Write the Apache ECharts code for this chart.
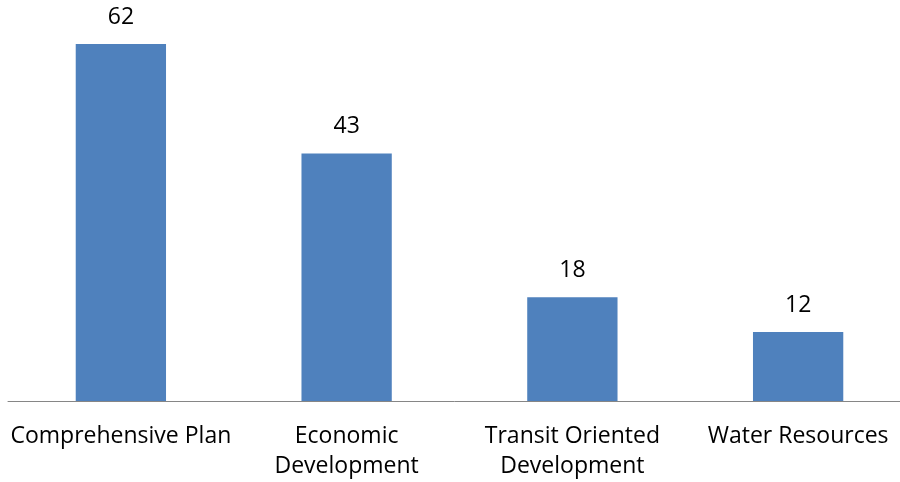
<!DOCTYPE html>
<html><head><meta charset="utf-8">
<script src="https://cdn.jsdelivr.net/npm/echarts@6/dist/echarts.min.js"></script>
<style>html,body{margin:0;padding:0;background:#fff}#c{width:900px;height:482px}</style>
</head><body><div id="c"></div>
<script>
const categories = ["Comprehensive Plan", "Economic\nDevelopment", "Transit Oriented\nDevelopment", "Water Resources"];
const values = [62, 43, 18, 12];

const chart = echarts.init(document.getElementById('c'), null, {renderer: 'canvas'});
const font = 'Open Sans';
chart.setOption({
  animation: false,
  grid: {left: 8, width: 903, top: 44, height: 357, containLabel: false, outerBoundsMode: 'none'},
  xAxis: {
    type: 'category', data: categories,
    axisLine: {lineStyle: {color: '#868686', width: 1}},
    axisTick: {show: false},
    axisLabel: {color: '#000', fontFamily: font, fontSize: 23, lineHeight: 30, margin: 20, interval: 0, hideOverlap: false}
  },
  yAxis: {type: 'value', min: 0, max: 62, show: false, splitLine: {show: false}},
  series: [{
    type: 'bar', data: values, barWidth: '40%',
    itemStyle: {color: '#4F81BD'},
    label: {show: true, position: 'top', distance: 15, color: '#000', fontFamily: font, fontSize: 23}
  }]
});
</script></body></html>
